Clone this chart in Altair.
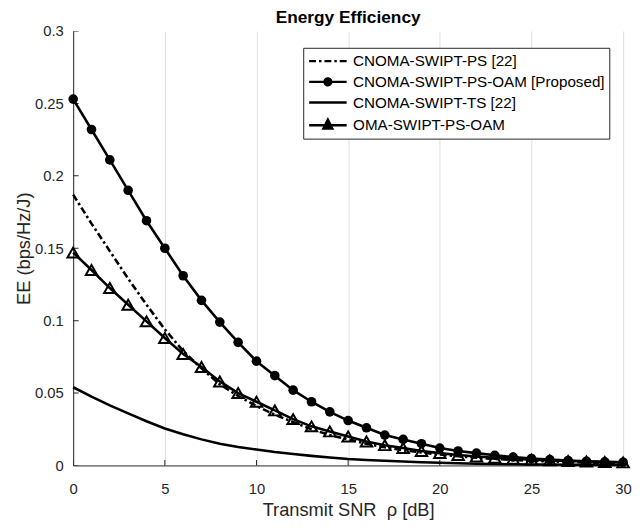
import altair as alt
import pandas as pd

# ---- data ----
snr_db = list(range(0, 31))

ee_cnoma_ps = [0.187, 0.167, 0.148, 0.129, 0.111, 0.094, 0.079, 0.067, 0.056, 0.048,
               0.041, 0.035, 0.030, 0.025, 0.021, 0.018, 0.015, 0.0125, 0.0105, 0.009,
               0.0075, 0.0063, 0.0053, 0.0045, 0.0038, 0.0032, 0.0027, 0.0023, 0.002, 0.0017,
               0.0015]
ee_proposed = [0.253, 0.232, 0.211, 0.190, 0.169, 0.150, 0.131, 0.114, 0.099, 0.085,
               0.072, 0.062, 0.052, 0.044, 0.037, 0.031, 0.026, 0.021, 0.018, 0.015,
               0.012, 0.010, 0.0085, 0.007, 0.0058, 0.0048, 0.004, 0.0034, 0.0029, 0.0025,
               0.0022]
ee_cnoma_ts = [0.054, 0.0475, 0.0415, 0.036, 0.0305, 0.0255, 0.0215, 0.018, 0.015, 0.0128,
               0.011, 0.0093, 0.0079, 0.0066, 0.0055, 0.0045, 0.0038, 0.0032, 0.0027, 0.0022,
               0.0018, 0.0015, 0.0012, 0.001, 0.0008, 0.0007, 0.0006, 0.0005, 0.0004, 0.0003,
               0.0003]
ee_oma = [0.147, 0.135, 0.1225, 0.111, 0.0995, 0.088, 0.077, 0.068, 0.058, 0.050,
          0.044, 0.038, 0.032, 0.027, 0.0235, 0.020, 0.0165, 0.014, 0.012, 0.010,
          0.0085, 0.0072, 0.0062, 0.0053, 0.0046, 0.004, 0.0035, 0.0031, 0.0027, 0.0024,
          0.0021]

series_names = ["CNOMA-SWIPT-PS [22]", "CNOMA-SWIPT-PS-OAM [Proposed]",
                "CNOMA-SWIPT-TS [22]", "OMA-SWIPT-PS-OAM"]
x_ticks = [0, 5, 10, 15, 20, 25, 30]
y_ticks = [0, 0.05, 0.1, 0.15, 0.2, 0.25, 0.3]

# ---- styles ----
dash_dot = [7, 3, 2.5, 3]
dash_patterns = [dash_dot, [1, 0], [1, 0], [1, 0]]
legend_paths = [
    "M-1,0H4.07",
    "M-1,0H4.07"
    "M1.08,0A0.45,0.45 0 1,0 1.98,0A0.45,0.45 0 1,0 1.08,0Z"
    "M1.33,0A0.2,0.2 0 1,0 1.73,0A0.2,0.2 0 1,0 1.33,0Z",
    "M-1,0H4.07",
    "M-1,0H4.07"
    "M1.53,-0.75L2.13,0.45L0.93,0.45Z"
    "M1.53,-0.27L1.77,0.21L1.29,0.21Z",
]

rows = []
for name, vals in zip(series_names, [ee_cnoma_ps, ee_proposed, ee_cnoma_ts, ee_oma]):
    for s, v in zip(snr_db, vals):
        rows.append({"snr": s, "ee": v, "series": name})
df = pd.DataFrame(rows)
xtick_df = pd.DataFrame({"snr": x_ticks})
ytick_df = pd.DataFrame({"ee": y_ticks})

FONT = "Liberation Sans"
AX = "#262626"

x_scale = alt.Scale(domain=[0, 30], nice=False, zero=False)
y_scale = alt.Scale(domain=[0, 0.3], nice=False)

x_enc = alt.X("snr:Q", scale=x_scale,
              axis=alt.Axis(values=x_ticks, title="Transmit SNR\u00a0\u00a0\u03c1 [dB]",
                            labelFlush=False, labelPadding=16, titlePadding=5))
y_enc = alt.Y("ee:Q", scale=y_scale,
              axis=alt.Axis(values=y_ticks, title="EE (bps/Hz/J)", format="~g",
                            labelPadding=10, titlePadding=1))

dash_scale = alt.Scale(domain=series_names, range=dash_patterns)
shape_scale = alt.Scale(domain=series_names, range=legend_paths)

legend = alt.Legend(
    title=None, orient="none", legendX=233, legendY=17,
    symbolSize=225, symbolStrokeWidth=2.5, symbolStrokeColor="black",
    symbolOpacity=1,
    labelFont=FONT, labelFontSize=15.4, labelColor="black", labelLimit=400,
    labelOffset=28, rowPadding=3, padding=4.5,
    strokeColor=AX, fillColor="white", cornerRadius=0,
)

base = alt.Chart(df)

# inward axis ticks (MATLAB style): half of each tick is clipped away by the plot frame
xticks_in = alt.Chart(xtick_df).mark_tick(
    orient="vertical", size=11, thickness=1, color=AX, clip=True, opacity=1
).encode(x=alt.X("snr:Q", scale=x_scale), y=alt.datum(0, scale=y_scale))
yticks_in = alt.Chart(ytick_df).mark_tick(
    orient="horizontal", size=11, thickness=1, color=AX, clip=True, opacity=1
).encode(y=alt.Y("ee:Q", scale=y_scale), x=alt.datum(0, scale=x_scale))

dashdot_line = base.transform_filter(alt.datum.series == series_names[0]).mark_line(
    color="black", strokeWidth=2.6, strokeDash=dash_dot
).encode(x=x_enc, y=y_enc)

solid_lines = base.transform_filter(alt.datum.series != series_names[0]).mark_line(
    color="black", strokeWidth=2.6
).encode(x=x_enc, y=y_enc, detail="series:N")

circles = base.transform_filter(alt.datum.series == series_names[1]).mark_point(
    shape="circle", filled=True, size=95, color="black", opacity=1
).encode(x=x_enc, y=y_enc)

tris = base.transform_filter(alt.datum.series == series_names[3]).mark_point(
    shape="triangle-up", filled=False, size=135, color="black", strokeWidth=2, opacity=1
).encode(x=x_enc, y=y_enc)

# legend-only layer: no rows, the legend comes from the explicit scale domains
leg = base.transform_filter(alt.datum.snr < -1).mark_point(
    filled=False, color="black", strokeWidth=2.5
).encode(
    x=x_enc, y=y_enc,
    shape=alt.Shape("series:N", scale=shape_scale, legend=legend),
    strokeDash=alt.StrokeDash("series:N", scale=dash_scale, legend=legend),
)

chart = alt.layer(xticks_in, yticks_in, solid_lines, dashdot_line, circles, tris, leg).properties(
    width=557, height=440,
    title=alt.Title("Energy Efficiency", font=FONT, fontSize=17.5, fontWeight="bold",
                    color="black", offset=5, dy=7, anchor="middle"),
    autosize=alt.AutoSizeParams(type="none"),
    padding={"left": 66, "top": 20, "right": 9, "bottom": 56},
).configure_view(stroke=None).configure_axis(
    labelFont=FONT, labelFontSize=15, labelColor=AX,
    titleFont=FONT, titleFontSize=18.5, titleColor=AX, titleFontWeight="normal",
    domainColor=AX, domainWidth=1, ticks=False,
    gridColor="#dedede", gridWidth=1, gridOpacity=1,
)

chart.save("out.html", embed_options={"renderer": "svg", "actions": False})
